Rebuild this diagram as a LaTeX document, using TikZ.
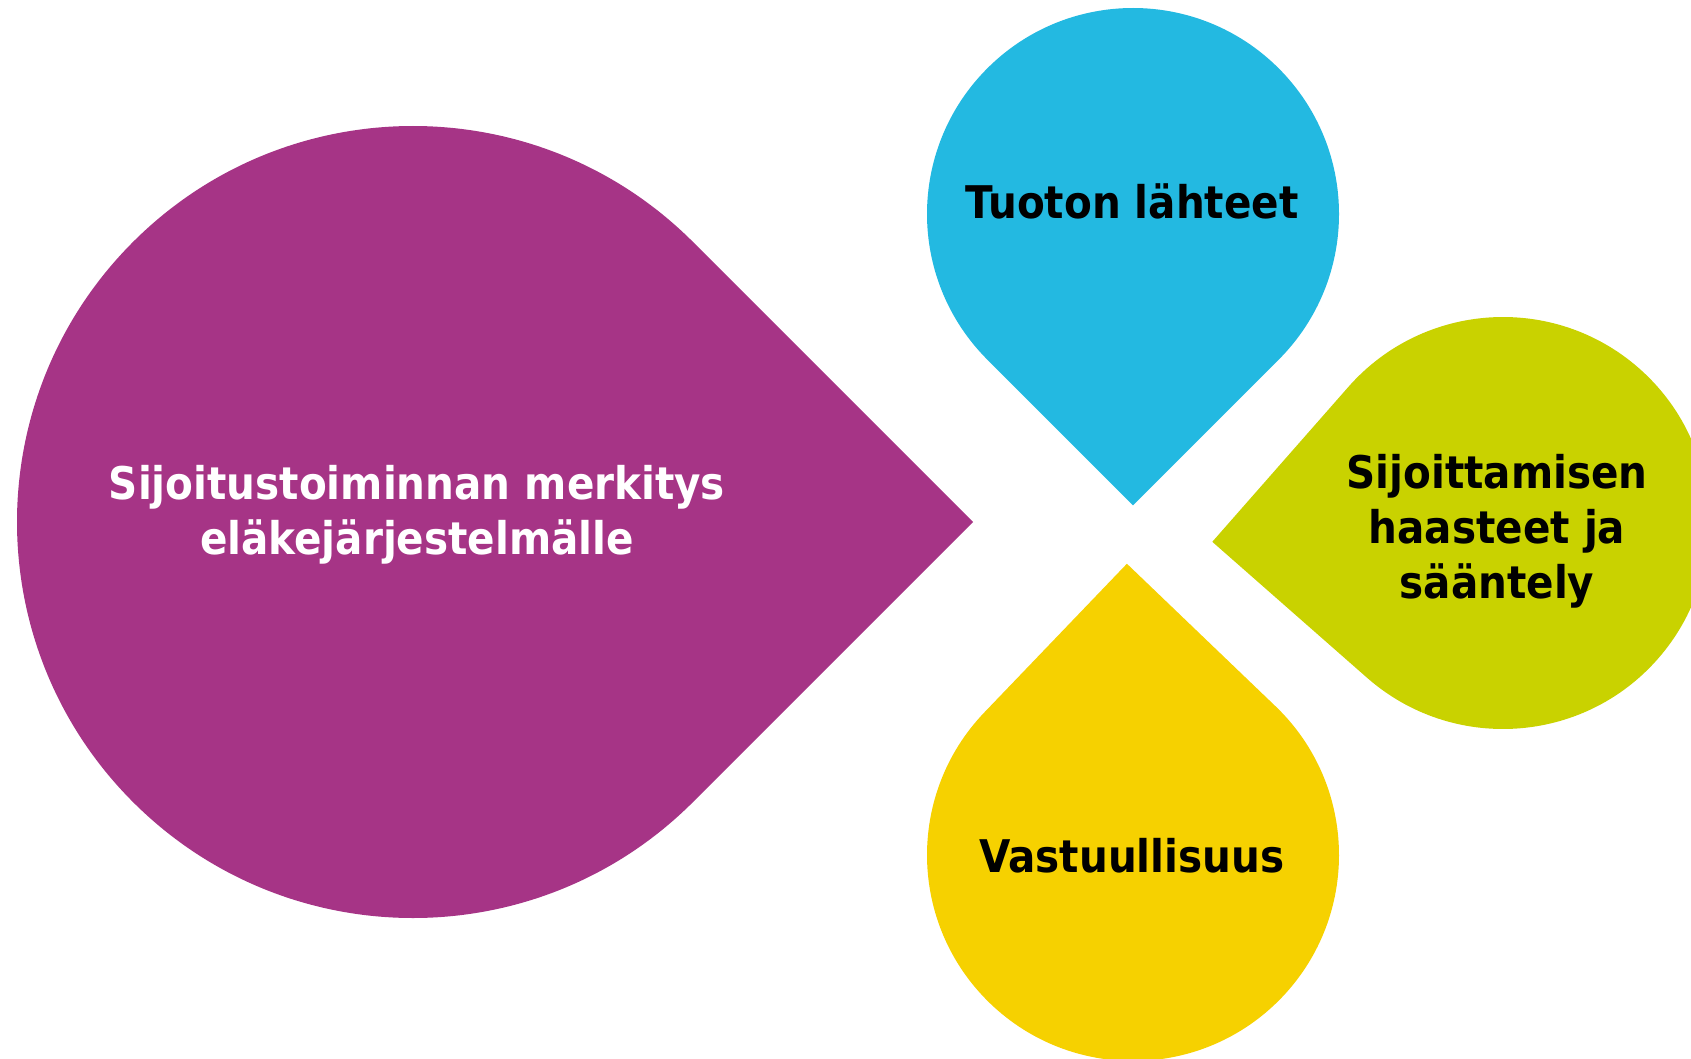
\documentclass[tikz,border=0pt]{standalone}
\usepackage{fontspec}
\setmainfont{DejaVu Sans Condensed}
\usepackage{tikz}
\usetikzlibrary{calc}
\definecolor{dropPurple}{HTML}{A63486}
\definecolor{dropBlue}{HTML}{23B9E1}
\definecolor{dropGreen}{HTML}{C9D200}
\definecolor{dropYellow}{HTML}{F6D100}
% teardrop: colour, centre, radius, direction of the tip
\newcommand{\drop}[4]{%
  \fill[#1] ($(#2)+(#4:{1.41421*#3})$) -- ($(#2)+({#4+45}:#3)$)
    arc[start angle={#4+45}, end angle={#4+315}, radius=#3] -- cycle;}
\begin{document}
\begin{tikzpicture}[x=1pt, y=1pt,
					label/.style={align=center, font=\bfseries\fontsize{45}{55}\selectfont, inner sep=0pt}]
					\useasboundingbox (0,0) rectangle (1691,-1059);
					\clip (0,0) rectangle (1691,-1059);
					\coordinate (P) at (413,-522);
					\coordinate (B) at (1133,-214);
					\coordinate (Y) at (1133,-855);
					\coordinate (G) at (1503,-523);
					\drop{dropPurple}{P}{396}{0}
					\drop{dropBlue}{B}{206}{-90}
					\drop{dropYellow}{Y}{206}{91.2}
					\drop{dropGreen}{G}{206}{183.7}
					\node[label, text=white] (merkitys) at (417,-515) {Sijoitustoiminnan merkitys\\eläkejärjestelmälle};
					\node[label] (tuotto) at (1132,-201) {Tuoton lähteet};
					\node[label] (haasteet) at (1497,-531) {Sijoittamisen\\haasteet ja\\sääntely};
					\node[label] (vastuu) at (1132,-856) {Vastuullisuus};
				\end{tikzpicture}
\end{document}
